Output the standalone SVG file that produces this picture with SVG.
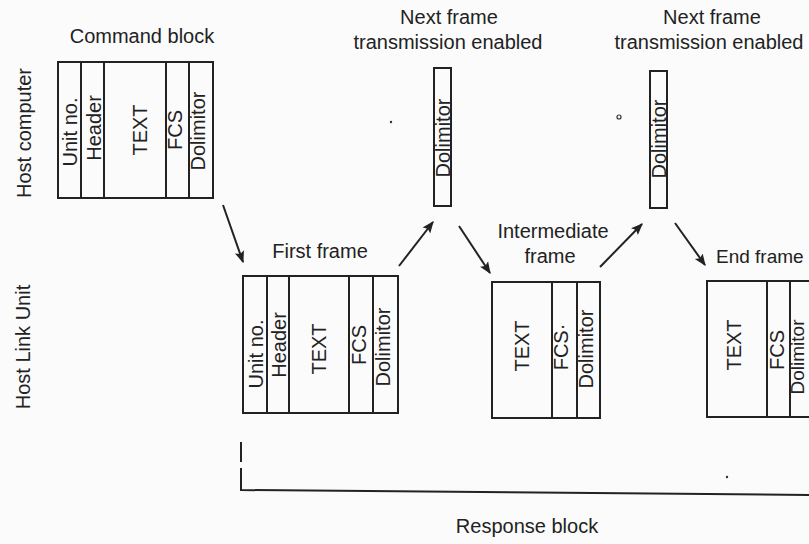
<svg xmlns="http://www.w3.org/2000/svg" width="809" height="544" viewBox="0 0 809 544">
<defs>
<style>
.t{font-family:"Liberation Sans",Arial,sans-serif;font-size:20px;fill:#222;}
.m{text-anchor:middle;}
.box{fill:none;stroke:#222;stroke-width:2;}
.ln{fill:none;stroke:#222;stroke-width:2;}
.con{fill:none;stroke:#222;stroke-width:2;marker-end:url(#ah);}
</style>
<marker id="ah" viewBox="0 0 10 10" refX="9" refY="5" markerWidth="6" markerHeight="6" orient="auto" markerUnits="strokeWidth">
<path d="M0,1 L10,5 L0,9 L2,5 Z" fill="#222"/>
</marker>
</defs>
<rect x="0" y="0" width="809" height="544" fill="#fbfbfb"/>

<g id="row-labels">
<text class="t m" transform="translate(31,133) rotate(-90)">Host computer</text>
<text class="t m" transform="translate(30,347) rotate(-90)">Host Link Unit</text>
</g>

<g id="command-block">
<text class="t m" x="142" y="43">Command block</text>
<rect class="box" x="58" y="62" width="155" height="136"/>
<line class="ln" x1="81" y1="62" x2="81" y2="198"/>
<line class="ln" x1="104" y1="62" x2="104" y2="198"/>
<line class="ln" x1="166" y1="62" x2="166" y2="198"/>
<line class="ln" x1="189" y1="62" x2="189" y2="198"/>
<text class="t m" transform="translate(77,132) rotate(-90)">Unit no.</text>
<text class="t m" transform="translate(101,128) rotate(-90)">Header</text>
<text class="t m" transform="translate(147,130) rotate(-90)">TEXT</text>
<text class="t m" transform="translate(182,130) rotate(-90)">FCS</text>
<text class="t m" transform="translate(205,131) rotate(-90)">Dolimitor</text>
</g>

<g id="delimiter-1">
<text class="t m" x="449" y="24">Next frame</text>
<text class="t m" x="448" y="49">transmission enabled</text>
<rect class="box" x="434" y="68" width="17" height="138"/>
<text class="t m" transform="translate(450,138) rotate(-90)">Dolimitor</text>
</g>

<g id="delimiter-2">
<text class="t m" x="712" y="24">Next frame</text>
<text class="t m" x="709" y="49">transmission enabled</text>
<rect class="box" x="650" y="71" width="17" height="137"/>
<text class="t m" transform="translate(666,139) rotate(-90)">Dolimitor</text>
</g>

<g id="first-frame">
<text class="t m" x="320" y="258">First frame</text>
<rect class="box" x="243" y="276" width="155" height="137"/>
<line class="ln" x1="267" y1="276" x2="267" y2="413"/>
<line class="ln" x1="289" y1="276" x2="289" y2="413"/>
<line class="ln" x1="349" y1="276" x2="349" y2="413"/>
<line class="ln" x1="373" y1="276" x2="373" y2="413"/>
<text class="t m" transform="translate(263,354) rotate(-90)">Unit no.</text>
<text class="t m" transform="translate(286,345) rotate(-90)">Header</text>
<text class="t m" transform="translate(326,349) rotate(-90)">TEXT</text>
<text class="t m" transform="translate(366,345) rotate(-90)">FCS</text>
<text class="t m" transform="translate(390,347) rotate(-90)">Dolimitor</text>
</g>

<g id="intermediate-frame">
<text class="t m" x="553" y="238">Intermediate</text>
<text class="t m" x="550" y="263">frame</text>
<rect class="box" x="492" y="282" width="108" height="136"/>
<line class="ln" x1="552" y1="282" x2="552" y2="418"/>
<line class="ln" x1="577" y1="282" x2="577" y2="418"/>
<text class="t m" transform="translate(529,346) rotate(-90)">TEXT</text>
<text class="t m" transform="translate(568,347) rotate(-90)">FCS·</text>
<text class="t m" transform="translate(593,349) rotate(-90)">Dolimitor</text>
</g>

<g id="end-frame">
<text class="t" x="716" y="263" style="font-size:19px">End frame</text>
<path class="ln" d="M812,281 H707 V417 H812"/>
<line class="ln" x1="767" y1="281" x2="767" y2="417"/>
<line class="ln" x1="790" y1="281" x2="790" y2="417"/>
<text class="t m" transform="translate(741,345) rotate(-90)">TEXT</text>
<text class="t m" transform="translate(784,350) rotate(-90)">FCS</text>
<text class="t m" transform="translate(804,357) rotate(-90)" style="font-size:19px">Dolimitor</text>
</g>

<g id="response-block">
<line class="ln" x1="241" y1="442" x2="241" y2="462"/>
<path class="ln" d="M241,468 V490 L809,495"/>
<text class="t m" x="527" y="533">Response block</text>
</g>

<g id="connectors">
<line class="con" x1="223" y1="205" x2="243" y2="262"/>
<line class="con" x1="399" y1="266" x2="433" y2="222"/>
<line class="con" x1="459" y1="226" x2="490" y2="273"/>
<line class="con" x1="600" y1="267" x2="642" y2="224"/>
<line class="con" x1="675" y1="223" x2="705" y2="265"/>
</g>

<g id="specks" fill="#333">
<circle cx="391" cy="122" r="1.2"/>
<circle cx="619" cy="117" r="2" fill="none" stroke="#333" stroke-width="1.2"/>
<circle cx="727" cy="477" r="1.2"/>
</g>
</svg>
